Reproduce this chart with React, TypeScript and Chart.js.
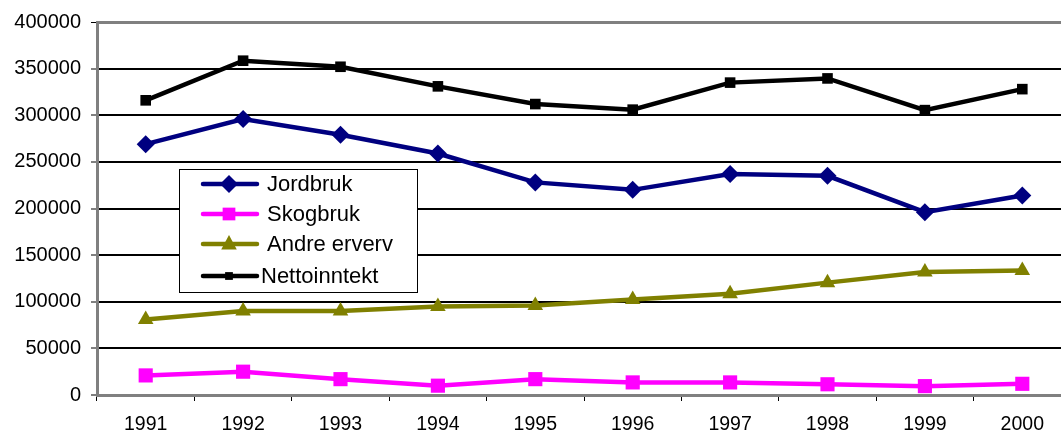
import React, { useEffect, useRef } from 'react';
import { Chart, registerables } from 'chart.js';

Chart.register(...registerables);

const years = ['1991', '1992', '1993', '1994', '1995', '1996', '1997', '1998', '1999', '2000'];
const jordbruk = [269000, 296000, 279000, 259000, 228000, 220000, 237000, 235000, 196000, 214000];
const skogbruk = [21000, 25000, 17000, 10000, 17000, 13500, 13500, 11500, 9500, 12000];
const andreErverv = [81000, 90000, 90000, 95000, 96000, 102500, 108500, 120500, 132000, 133500];
const nettoinntekt = [316000, 358500, 352000, 331000, 312000, 306000, 335000, 339500, 305500, 328000];

const seriesNames = ['Jordbruk', 'Skogbruk', 'Andre erverv', 'Nettoinntekt'];
const seriesColors = ['#000080', '#FF00FF', '#808000', '#000000'];
const seriesPoints = ['rectRot', 'rect', 'triangle', 'rect'];
const seriesRadius = [9, 10, 9, 7.5];

const FONT = '"Liberation Sans", Arial, sans-serif';

function drawMarker(ctx: CanvasRenderingContext2D, style: string, x: number, y: number, r: number, color: string) {
  ctx.save();
  ctx.fillStyle = color;
  ctx.beginPath();
  if (style === 'rectRot') {
    ctx.moveTo(x, y - r);
    ctx.lineTo(x + r, y);
    ctx.lineTo(x, y + r);
    ctx.lineTo(x - r, y);
    ctx.closePath();
  } else if (style === 'rect') {
    const s = r * Math.SQRT1_2;
    ctx.rect(x - s, y - s, 2 * s, 2 * s);
  } else if (style === 'triangle') {
    ctx.moveTo(x, y - r);
    ctx.lineTo(x + r * 0.866, y + r * 0.6);
    ctx.lineTo(x - r * 0.866, y + r * 0.6);
    ctx.closePath();
  }
  ctx.fill();
  ctx.restore();
}

const legendPlugin = {
  id: 'customLegend',
  afterDraw(chart: any) {
    const ctx: CanvasRenderingContext2D = chart.ctx;
    const bx = 179.5, by = 169.5, bw = 238, bh = 123;
    ctx.save();
    ctx.fillStyle = '#ffffff';
    ctx.fillRect(bx, by, bw, bh);
    ctx.strokeStyle = '#000000';
    ctx.lineWidth = 1;
    ctx.strokeRect(bx, by, bw, bh);
    const rows = [184, 214, 244, 276];
    const textX = [267, 267, 267, 261];
    const legendR = [9, 9, 9, 5.5];
    for (let i = 0; i < 4; i++) {
      const y = rows[i];
      ctx.strokeStyle = seriesColors[i];
      ctx.lineWidth = 4.5;
      ctx.lineCap = 'round';
      ctx.beginPath();
      ctx.moveTo(203, y);
      ctx.lineTo(257, y);
      ctx.stroke();
      drawMarker(ctx, seriesPoints[i], 229, y, legendR[i], seriesColors[i]);
      ctx.fillStyle = '#000000';
      ctx.font = `22px ${FONT}`;
      ctx.textBaseline = 'middle';
      ctx.textAlign = 'left';
      ctx.fillText(seriesNames[i], textX[i], y + 1);
    }
    ctx.restore();
  },
};

export default function App() {
  const canvasRef = useRef<HTMLCanvasElement | null>(null);

  useEffect(() => {
    const canvas = canvasRef.current;
    if (!canvas) return;
    const dataSets = [jordbruk, skogbruk, andreErverv, nettoinntekt];
    const chart = new Chart(canvas, {
      type: 'line',
      data: {
        labels: years,
        datasets: dataSets.map((d, i) => ({
          label: seriesNames[i],
          data: d,
          borderColor: seriesColors[i],
          backgroundColor: seriesColors[i],
          borderWidth: 4.5,
          pointStyle: seriesPoints[i] as any,
          pointRadius: seriesRadius[i],
          pointHoverRadius: seriesRadius[i],
          pointBorderWidth: 0,
          pointBackgroundColor: seriesColors[i],
          tension: 0,
          fill: false,
          clip: false as any,
        })),
      },
      options: {
        responsive: false,
        animation: false,
        devicePixelRatio: 1,
        layout: { padding: { top: 21, right: 19, bottom: 0, left: 0 } },
        plugins: {
          legend: { display: false },
          tooltip: { enabled: false },
          title: { display: false },
        },
        scales: {
          x: {
            type: 'category',
            offset: true,
            grid: {
              offset: true,
              drawOnChartArea: false,
              drawTicks: true,
              tickLength: 6,
              tickColor: '#000000',
              tickWidth: 1,
            },
            border: { display: true, color: '#808080', width: 3 },
            ticks: {
              color: '#000000',
              font: { family: FONT, size: 19.5 },
              padding: 12,
              maxRotation: 0,
              autoSkip: false,
            },
            afterFit(scale: any) {
              scale.height = 41;
            },
          },
          y: {
            min: 0,
            max: 400000,
            grid: {
              color: (c: any) => (c.tick && (c.tick.value === 400000 || c.tick.value === 0) ? '#808080' : '#000000'),
              lineWidth: (c: any) => (c.tick && c.tick.value === 400000 ? 3 : 2),
              drawTicks: true,
              tickLength: 6,
              tickColor: '#000000',
              tickWidth: 1,
            },
            border: { display: true, color: '#808080', width: 3 },
            ticks: {
              stepSize: 50000,
              color: '#000000',
              font: { family: FONT, size: 20 },
              padding: 10,
              callback: (v: any) => String(v),
            },
            afterFit(scale: any) {
              scale.width = 97;
            },
          },
        },
      },
      plugins: [legendPlugin],
    });
    return () => chart.destroy();
  }, []);

  return (
    <div
      style={{
        position: 'fixed',
        left: 0,
        top: 0,
        width: 1061,
        height: 436,
        overflow: 'hidden',
        background: '#ffffff',
      }}
    >
      <canvas ref={canvasRef} width={1090} height={436} style={{ display: 'block' }} />
    </div>
  );
}
